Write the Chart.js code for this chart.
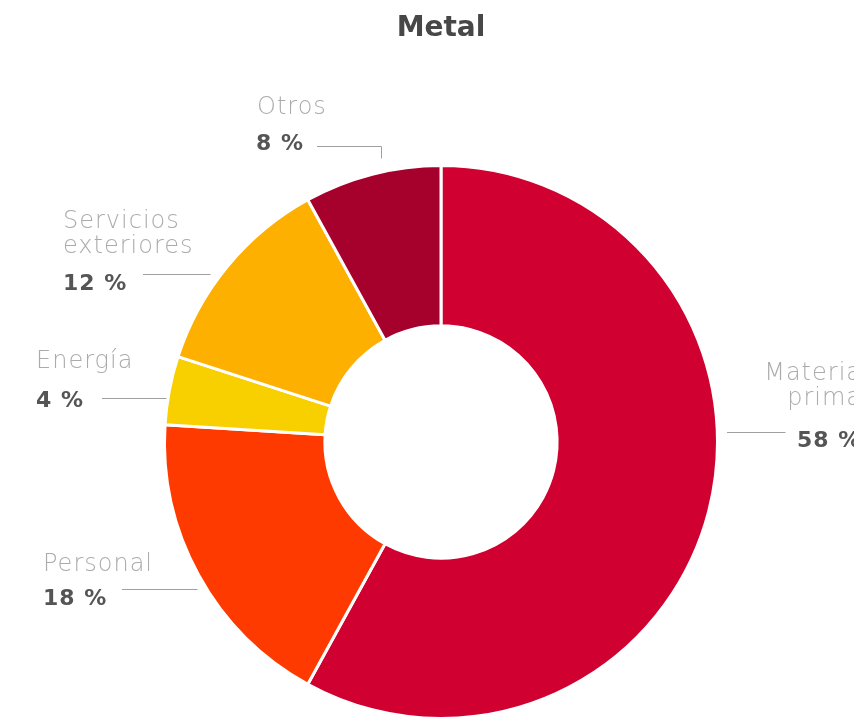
<!DOCTYPE html>
<html lang="es">
<head>
  <meta charset="UTF-8">
  <meta name="viewport" content="width=device-width, initial-scale=1.0">
  <title>Metal</title>
  <script src="https://cdn.jsdelivr.net/npm/chart.js"></script>
  <style>
    body {
      margin: 0;
      background-color: #ffffff;
    }
    .chart-container {
      width: 854px;
      height: 726px;
    }
  </style>
</head>
<body>
  <div class="chart-container">
    <canvas id="metalChart" width="854" height="726"></canvas>
  </div>

  <script>
    // Datos del gráfico
    const categories = ['Materia prima', 'Personal', 'Energía', 'Servicios exteriores', 'Otros'];
    const values = [58, 18, 4, 12, 8];
    const sliceColors = ['#d00030', '#ff3a00', '#f8d000', '#fdb000', '#a6002d'];

    // Posición de las etiquetas (texto + línea guía)
    const labelLayout = [
      { x: 862, align: 'right', y: 374, pctX: 797, pctY: 441, line: [[727, 432], [785, 432]] },
      { x: 43, align: 'left', y: 565, pctX: 43, pctY: 599, line: [[122, 589], [197, 589]] },
      { x: 36, align: 'left', y: 362, pctX: 36, pctY: 401, line: [[102, 398], [166, 398]] },
      { x: 63, align: 'left', y: 222, pctX: 63, pctY: 284, line: [[143, 274], [210, 274]] },
      { x: 257, align: 'left', y: 108, pctX: 256, pctY: 144, line: [[317, 146], [381, 146], [381, 158]] }
    ];

    // Etiquetas externas dibujadas después del gráfico
    const outsideLabels = {
      id: 'outsideLabels',
      afterDraw(chart) {
        const c = chart.ctx;
        c.save();
        c.textBaseline = 'middle';
        labelLayout.forEach((pos, i) => {
          const words = categories[i].split(' ');
          c.fillStyle = '#ababab';
          c.font = '200 24px "DejaVu Sans", sans-serif';
          c.letterSpacing = '1px';
          c.textAlign = pos.align;
          words.forEach((w, k) => c.fillText(w, pos.x, pos.y + k * 25));

          c.fillStyle = '#555555';
          c.font = 'bold 22px "DejaVu Sans", sans-serif';
          c.letterSpacing = '1px';
          c.textAlign = 'left';
          c.fillText(values[i] + ' %', pos.pctX, pos.pctY);

          c.strokeStyle = '#a0a0a0';
          c.lineWidth = 1;
          c.beginPath();
          pos.line.forEach((p, k) => k === 0 ? c.moveTo(p[0], p[1] + 0.5) : c.lineTo(p[0] + 0.5, p[1] + 0.5));
          c.stroke();
        });
        c.restore();
      }
    };

    const ctx = document.getElementById('metalChart').getContext('2d');
    new Chart(ctx, {
      type: 'doughnut',
      data: {
        labels: categories,
        datasets: [{
          data: values,
          backgroundColor: sliceColors,
          borderColor: '#ffffff',
          borderWidth: 3,
          hoverOffset: 0
        }]
      },
      options: {
        responsive: false,
        animation: false,
        events: [],
        cutout: '42%',
        layout: {
          padding: { left: 163, right: 135, top: 0, bottom: 6 }
        },
        plugins: {
          legend: { display: false },
          tooltip: { enabled: false },
          title: {
            display: true,
            text: 'Metal',
            color: '#474747',
            font: { family: '"DejaVu Sans", sans-serif', size: 28, weight: 'bold' },
            padding: { top: 12, bottom: 118.4 }
          }
        }
      },
      plugins: [outsideLabels]
    });
  </script>
</body>
</html>
